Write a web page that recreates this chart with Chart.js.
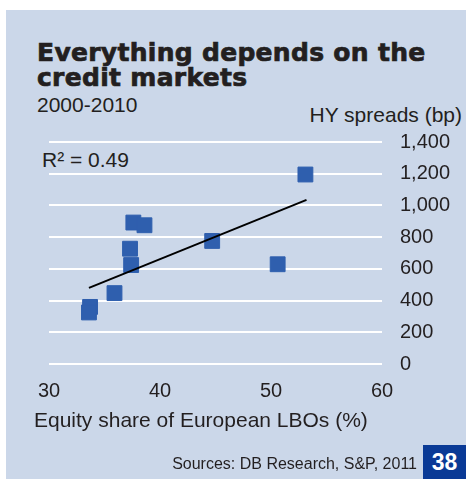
<!DOCTYPE html>
<html>
<head>
<meta charset="utf-8">
<script src="https://cdn.jsdelivr.net/npm/chart.js@4"></script>
<style>
  html, body { margin: 0; padding: 0; background: #ffffff; }
  #wrap { position: relative; width: 466px; height: 479px; overflow: hidden; font-family: "Liberation Sans", Arial, sans-serif; color: #231f20; }
  #panel { position: absolute; left: 6px; top: 10px; right: 0; bottom: 0; background: #cbd7e9; }
  #chart { position: absolute; left: 0; top: 0; }
  .txt { position: absolute; font-size: 21px; line-height: 21px; white-space: nowrap; }
  #title { position: absolute; left: 37px; top: 41px; font-family: "DejaVu Sans", sans-serif; font-weight: bold; font-size: 25px; line-height: 24.5px; letter-spacing: 0.3px; -webkit-text-stroke: 0.7px #231f20; color: #231f20; white-space: nowrap; }
  #source { position: absolute; right: 49px; top: 456px; font-size: 16px; line-height: 16px; white-space: nowrap; }
  #badge { position: absolute; left: 423px; top: 445px; width: 43px; height: 34px; background: #0a3a96; color: #fff; font-weight: bold; font-size: 23px; line-height: 34px; text-align: center; }
</style>
</head>
<body>
<div id="wrap">
  <div id="panel"></div>
  <div id="title">Everything depends on the<br>credit markets</div>
  <div class="txt" style="left:37px; top:94px;">2000-2010</div>
  <div class="txt" style="right:4px; top:104px;">HY spreads (bp)</div>
  <div class="txt" style="left:42px; top:149px;">R² = 0.49</div>
  <canvas id="chart" width="466" height="479"></canvas>
  <div class="txt" style="left:34px; top:409px;">Equity share of European LBOs (%)</div>
  <div id="source">Sources: DB Research, S&amp;P, 2011</div>
  <div id="badge">38</div>
</div>
<script>
// Equity share of European LBOs (%) vs HY spreads (bp), 2000-2010
const equityShare = [53.1, 37.6, 38.6, 44.7, 37.3, 37.4, 50.6, 35.9, 33.7, 33.6];
const hySpreads   = [1195, 892, 875, 776, 727, 624, 629, 447, 360, 325];

// fitted trend line end points
const trendX = [33.6, 53.2];
const trendY = [480, 1035];

const xTickValues = [30, 40, 50, 60];
const xTickLabels = ['30', '40', '50', '60'];
const yTickValues = [0, 200, 400, 600, 800, 1000, 1200, 1400];
const yTickLabels = ['0', '200', '400', '600', '800', '1,000', '1,200', '1,400'];

const textColor = '#231f20';
const font = { family: '"Liberation Sans", Arial, sans-serif', size: 20 };

const ctx = document.getElementById('chart').getContext('2d');
new Chart(ctx, {
    type: 'scatter',
    data: {
        datasets: [{
            type: 'line',
            data: trendX.map((x, i) => ({ x: x, y: trendY[i] })),
            borderColor: '#000000',
            borderWidth: 2,
            pointRadius: 0,
            fill: false,
            order: 0
        }, {
            data: equityShare.map((x, i) => ({ x: x, y: hySpreads[i] })),
            pointStyle: 'rect',
            pointRadius: 10.5,
            backgroundColor: '#2f5fae',
            borderColor: '#2f5fae',
            borderWidth: 1,
            order: 1
        }]
    },
    options: {
        responsive: false,
        animation: false,
        layout: { padding: { left: 49, top: 142, right: 0, bottom: 0 } },
        plugins: {
            legend: { display: false },
            tooltip: { enabled: false }
        },
        scales: {
            x: {
                type: 'linear',
                min: 30,
                max: 60,
                afterBuildTicks: (scale) => { scale.ticks = xTickValues.map(v => ({ value: v })); },
                afterFit: (scale) => { scale.height = 115; },
                grid: { display: false },
                border: { display: false },
                ticks: {
                    color: textColor,
                    font: font,
                    padding: 7,
                    maxRotation: 0,
                    callback: (value, index) => xTickLabels[index]
                }
            },
            y: {
                position: 'right',
                min: 0,
                max: 1400,
                afterBuildTicks: (scale) => { scale.ticks = yTickValues.map(v => ({ value: v })); },
                afterFit: (scale) => { scale.width = 84; },
                grid: { color: '#ffffff', lineWidth: 2, drawTicks: false },
                border: { display: false },
                ticks: {
                    color: textColor,
                    font: font,
                    padding: 18,
                    callback: (value, index) => yTickLabels[index]
                }
            }
        }
    }
});
</script>
</body>
</html>
